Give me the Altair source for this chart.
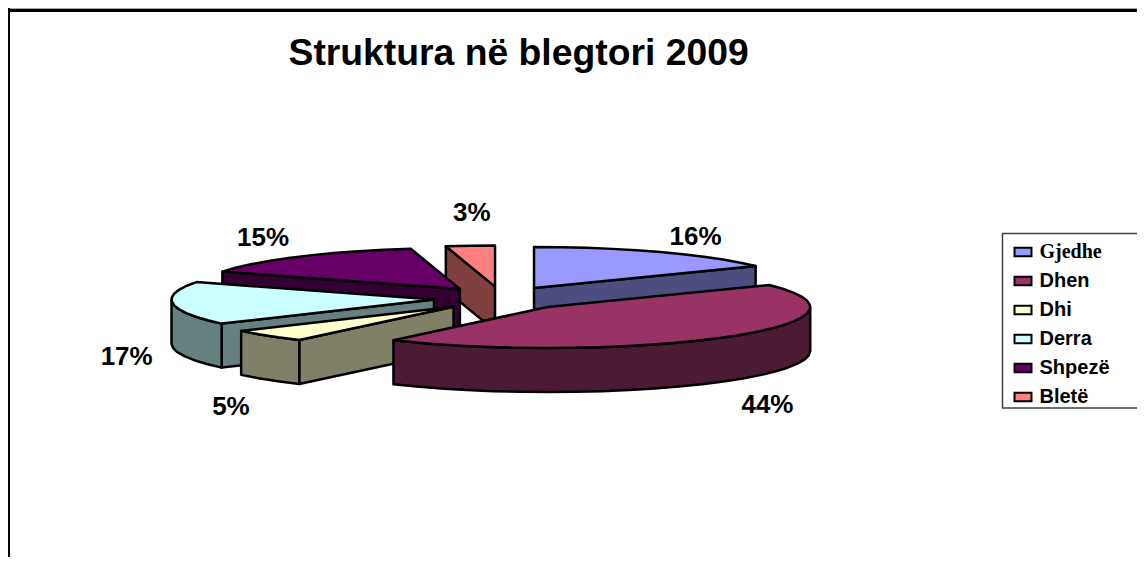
import math
import altair as alt

NAMES = ["Gjedhe", "Dhen", "Dhi", "Derra", "Shpezë", "Bletë"]
SHARES = [16, 44, 5, 17, 15, 3]
TOP_COLORS = ["#9999FF", "#993366", "#FFFFCC", "#CCFFFF", "#660066", "#FF8080"]
SIDE_COLORS = ["#4D4D80", "#4D1A33", "#808066", "#668080", "#330033", "#804040"]
PAINT_ORDER = ["Bletë", "Shpezë", "Gjedhe", "Derra", "Dhi", "Dhen"]

# layout of the tilted, exploded pie (pixels in the plot area)
CX, CY = 493.4, 290.4
RX, RY, DEPTH = 262.5, 41, 44
EXPLODE_X, EXPLODE_Y = 67.7, 11.84
LABEL_NUDGE = {
    "Gjedhe": (35, -15), "Dhen": (40, 68), "Dhi": (-37, 71),
    "Derra": (-46, 54), "Shpezë": (-36, -19), "Bletë": (1.5, -33),
}
W, H = 1129, 549


def pt(apex, deg, r=1.0):
    t = math.radians(deg)
    return [apex[0] + r * RX * math.sin(t), apex[1] - r * RY * math.cos(t)]


def down(p):
    return [p[0], p[1] + DEPTH]


def feature(series, ring):
    return {
        "type": "Feature",
        "properties": {"series": series},
        "geometry": {"type": "Polygon", "coordinates": [ring + [ring[0]]]},
    }


def arc(apex, a, b, step=6):
    n = max(2, math.ceil((b - a) / step))
    return [pt(apex, a + (b - a) * i / n) for i in range(n + 1)]


spans = {}
cum = 0.0
for name, share in zip(NAMES, SHARES):
    spans[name] = (cum * 3.6, (cum + share) * 3.6)
    cum += share

features, label_rows = [], []
for name in PAINT_ORDER:
    a, b = spans[name]
    m = math.radians((a + b) / 2)
    apex = (CX + EXPLODE_X * math.sin(m), CY - EXPLODE_Y * math.cos(m))
    side = name + " side"
    if math.sin(math.radians(a)) < -1e-9:
        p = pt(apex, a)
        features.append(feature(side, [list(apex), p, down(p), down(list(apex))]))
    if math.sin(math.radians(b)) > 1e-9:
        p = pt(apex, b)
        features.append(feature(side, [list(apex), p, down(p), down(list(apex))]))
    lo, hi = max(a, 90), min(b, 270)
    if hi > lo:
        rim = arc(apex, lo, hi)
        features.append(feature(side, rim + [down(p) for p in reversed(rim)]))
    features.append(feature(name, [list(apex)] + arc(apex, a, b)))
    rim_mid = pt(apex, (a + b) / 2)
    nudge = LABEL_NUDGE[name]
    label_rows.append({
        "lon": rim_mid[0] + nudge[0],
        "lat": rim_mid[1] + nudge[1],
        "label": f"{SHARES[NAMES.index(name)]}%",
    })

PROJ = dict(type="identity", scale=1, translate=[0, 0])

border_left = alt.Chart().mark_rule(color="black", strokeWidth=2).encode(
    x=alt.value(1), y=alt.value(0), y2=alt.value(H))
border_top = alt.Chart().mark_rule(color="black", strokeWidth=3).encode(
    y=alt.value(2.5), x=alt.value(0), x2=alt.value(W))
strip = alt.Chart().mark_rule(color="#a8a8a8", strokeWidth=1).encode(
    y=alt.value(0.5), x=alt.value(0), x2=alt.value(W))
legend_box = alt.Chart().mark_rect(fill="white", stroke="#404040", strokeWidth=1.5).encode(
    x=alt.value(994.5), x2=alt.value(W + 20), y=alt.value(225.5), y2=alt.value(400))

slices = alt.Chart(alt.Data(values=features)).mark_geoshape(
    stroke="black", strokeWidth=2.5, strokeJoin="round"
).encode(
    color=alt.Color(
        "properties.series:N",
        scale=alt.Scale(
            domain=NAMES + [n + " side" for n in NAMES],
            range=TOP_COLORS + SIDE_COLORS,
        ),
        legend=alt.Legend(
            values=NAMES, title=None, orient="none", legendX=1005, legendY=234,
            symbolType="M-1,-0.5H1V0.5H-1Z", symbolSize=288,
            symbolStrokeColor="black", symbolStrokeWidth=2,
            labelFontSize=20, labelFontWeight="bold", labelColor="black",
            labelFont=alt.ExprRef("datum.label == 'Gjedhe' ? 'Liberation Serif' : 'Liberation Sans'"),
            labelOffset=6.5, rowPadding=9, padding=0, labelLimit=120,
        ),
    )
).project(**PROJ)

labels = alt.Chart(alt.Data(values=label_rows)).mark_text(
    font="Liberation Sans", fontWeight="bold", fontSize=26, color="black"
).encode(
    longitude="lon:Q", latitude="lat:Q", text="label:N"
).project(**PROJ)

chart = alt.layer(strip, border_top, border_left, legend_box, slices, labels).properties(
    width=W, height=H, padding=0, background="white",
    autosize=alt.AutoSizeParams(type="none"),
    title=alt.TitleParams(
        "Struktura në blegtori 2009", font="Liberation Sans", fontSize=37.3,
        fontWeight="bold", color="black", anchor="start", align="left",
        dx=282, dy=99, baseline="alphabetic",
    ),
).configure_view(stroke=None)

chart.save("out.html", embed_options={"renderer": "svg", "actions": False})
